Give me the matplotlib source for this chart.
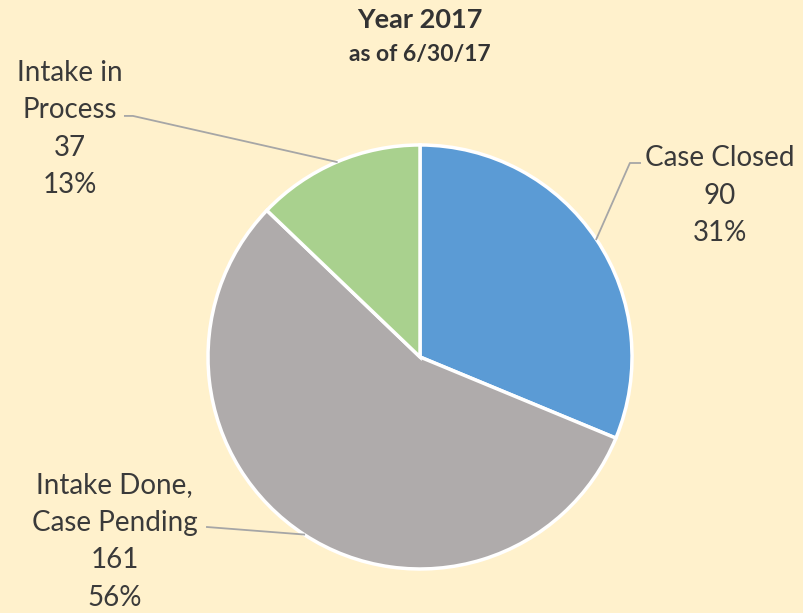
import numpy as np
import matplotlib.pyplot as plt

labels = ["Case Closed", "Intake Done,\nCase Pending", "Intake in\nProcess"]
counts = [90, 161, 37]
colors = ["#5B9BD5", "#AFABAB", "#A9D18E"]

# label text positions and leader elbows (data units, pie radius = 1)
label_pos = [(1.415, 0.76), (-1.44, -0.87), (-1.65, 1.075)]
elbows = [[(0.99, 0.915), (1.038, 0.915)],
          [(-1.005, -0.802), (-1.005, -0.802)],
          [(-1.354, 1.137), (-1.392, 1.137)]]

bg = "#FFF1CC"
txt = "#3A3A3A"
plt.rcParams["font.family"] = ["Lato", "DejaVu Sans"]

fig = plt.figure(figsize=(8.04, 6.13), dpi=100, facecolor=bg)
ax = fig.add_axes([0.2587, 0.0718, 0.5274, 0.6917])
ax.set_facecolor(bg)

wedges, _ = ax.pie(counts, colors=colors, startangle=90, counterclock=False,
                   radius=1, wedgeprops=dict(edgecolor="white", linewidth=2.5))
ax.set_xlim(-1, 1)
ax.set_ylim(-1, 1)
ax.set_aspect("equal")
ax.axis("off")

total = sum(counts)
for w, lab, n, pos, elb in zip(wedges, labels, counts, label_pos, elbows):
    mid = np.deg2rad((w.theta1 + w.theta2) / 2)
    xs = [np.cos(mid)] + [p[0] for p in elb]
    ys = [np.sin(mid)] + [p[1] for p in elb]
    ax.plot(xs, ys, color="#A6A6A6", lw=1.3, clip_on=False)
    ax.text(pos[0], pos[1], f"{lab}\n{n}\n{round(100 * n / total)}%",
            ha="center", va="center", multialignment="center",
            fontsize=20, color=txt, linespacing=1.55, clip_on=False)

fig.text(420 / 804, 1 - 20 / 613, "Year 2017", ha="center", va="center",
         fontsize=19.5, fontweight="bold", color="#333333")
fig.text(420 / 804, 1 - 54 / 613, "as of 6/30/17", ha="center", va="center",
         fontsize=16.5, fontweight="bold", color="#333333")

fig.savefig("out.png", dpi=100, facecolor=bg)
